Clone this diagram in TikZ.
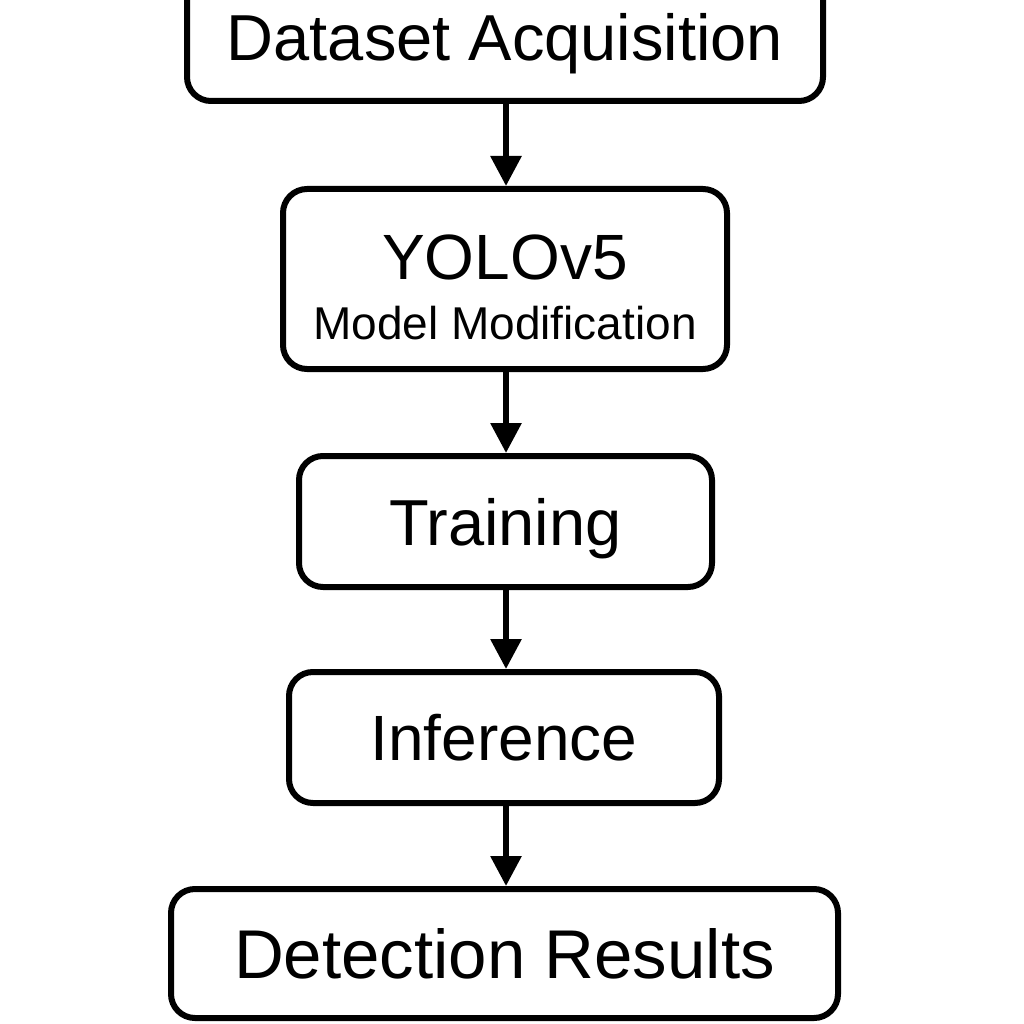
\documentclass[tikz,border=0pt]{standalone}
\usepackage{fontspec}
\setmainfont{Liberation Sans}
\usetikzlibrary{arrows.meta}
\begin{document}
\begin{tikzpicture}[x=1pt,y=-1pt,
  box/.style={draw=black, line width=6pt, rounded corners=24pt, inner sep=0pt, align=center, fill=white},
  arr/.style={line width=6pt, -{Triangle[length=30pt,width=30pt]}}
]
\useasboundingbox[fill=white] (0,0) rectangle (1024,1024);
\node[box, minimum width=636pt, minimum height=128pt, font=\fontsize{65}{65}\selectfont, text height=47pt, text depth=0pt] (b1) at (505,37) {Dataset Acquisition};
\node[box, minimum width=444pt, minimum height=180pt, font=\fontsize{46}{60}\selectfont] (b2) at (505,279)
  {{\fontsize{64}{60}\selectfont\rule{0pt}{61pt}YOLOv5}\\{\fontsize{46}{60}\selectfont Model Modification}};
\node[box, minimum width=413pt, minimum height=131pt, font=\fontsize{65}{65}\selectfont, text height=47pt, text depth=0pt] (b3) at (505.5,521.5) {Training};
\node[box, minimum width=430pt, minimum height=131pt, font=\fontsize{64}{64}\selectfont, text height=46pt, text depth=0pt] (b4) at (504,737.5) {Inference};
\node[box, minimum width=667pt, minimum height=129pt, font=\fontsize{69}{69}\selectfont, text height=50pt, text depth=0pt] (b5) at (504.5,953.5) {Detection Results};
\draw[arr] (b1.south -| 506,0) -- (b2.north -| 506,0);
\draw[arr] (b2.south -| 506,0) -- (b3.north -| 506,0);
\draw[arr] (b3.south -| 506,0) -- (b4.north -| 506,0);
\draw[arr] (b4.south -| 506,0) -- (b5.north -| 506,0);
\end{tikzpicture}
\end{document}
